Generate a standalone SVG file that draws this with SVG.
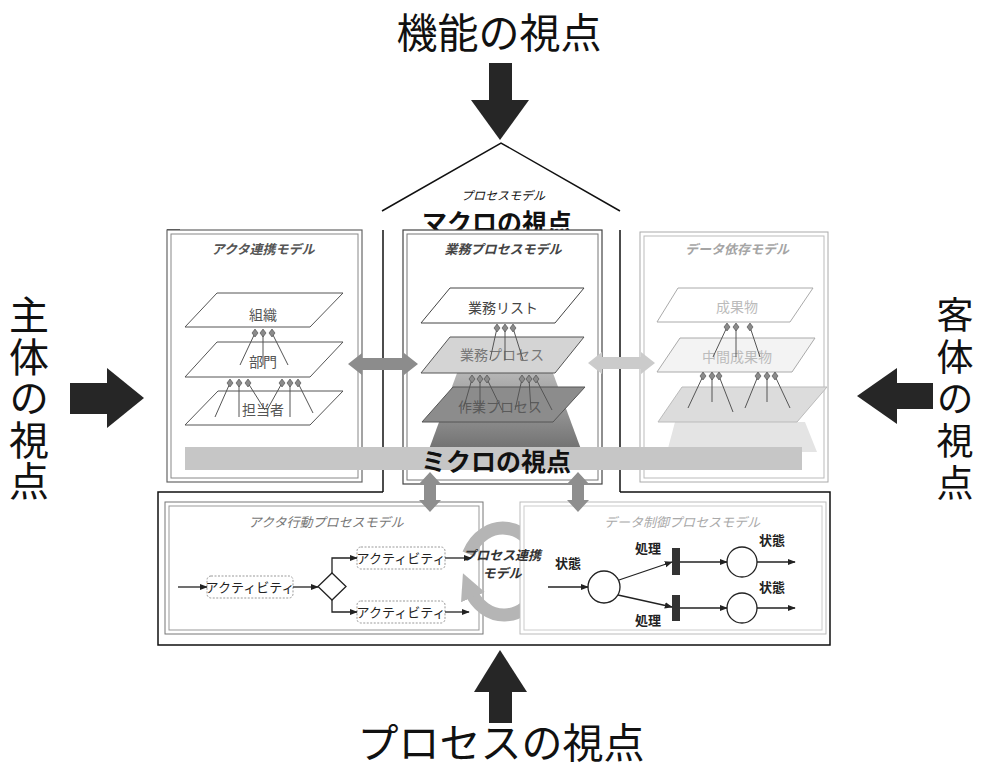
<svg xmlns="http://www.w3.org/2000/svg" width="983" height="770" viewBox="0 0 983 770">
<style>
text{font-family:"Noto Sans CJK JP","Noto Sans",sans-serif}
.big{font-size:41px;fill:#111;text-anchor:middle}
.vert{font-size:40px;fill:#111;writing-mode:vertical-rl;letter-spacing:1.5px}
.sub{font-size:25px;font-weight:bold;fill:#111;text-anchor:middle}
.ttl{font-size:13px;font-style:italic;font-weight:bold;text-anchor:middle}
.pl{font-size:14px;text-anchor:middle}
.act{font-size:13px;fill:#222;text-anchor:middle}
.lab{font-size:13px;font-weight:bold;fill:#222;text-anchor:middle}
.blk{stroke:#111;stroke-width:1.5;fill:none}
.fr{fill:#fff}
.frin{fill:none}
.pin{fill:#8a8a8a;stroke:#444;stroke-width:.6}
.pinl{stroke:#555;stroke-width:1;fill:none}
.ln{stroke:#222;stroke-width:1.3;fill:none}
.abox{fill:#fff;stroke:#999;stroke-width:1;stroke-dasharray:2 1.5}
.bigarr{fill:#262626}
</style>
<defs>
<marker id="ah" viewBox="0 0 10 10" refX="9" refY="5" markerWidth="8" markerHeight="8" markerUnits="userSpaceOnUse" orient="auto"><path d="M0,1 L10,5 L0,9 z" fill="#222"/></marker>
<marker id="rh" viewBox="0 0 10 10" refX="3" refY="5" markerWidth="26" markerHeight="26" markerUnits="userSpaceOnUse" orient="auto"><path d="M0,0 L10,5 L0,10 z" fill="#b5b5b5"/></marker>
<path id="pin" d="M0,-4 L3,0 L0,4 L-3,0 Z"/>
<linearGradient id="pyr" x1="0" y1="0" x2="0" y2="1"><stop offset="0" stop-color="#bdbdbd"/><stop offset="0.45" stop-color="#9a9a9a"/><stop offset="1" stop-color="#6f6f6f"/></linearGradient>
</defs>

<!-- perspective titles and big arrows -->
<g id="view-function">
<text class="big" x="499" y="48">機能の視点</text>
<rect class="bigarr" x="489" y="63" width="23" height="38"/>
<polygon class="bigarr" points="471,100 529,100 500,140"/>
</g>
<g id="view-subject">
<text class="vert" x="29" y="295">主体の視点</text>
<rect class="bigarr" x="70" y="383" width="38" height="31"/>
<polygon class="bigarr" points="107,368 107,428 144,398"/>
</g>
<g id="view-object">
<text class="vert" x="955" y="296" style="font-size:37px;letter-spacing:5px">客体の視点</text>
<rect class="bigarr" x="896" y="383" width="37" height="26"/>
<polygon class="bigarr" points="897,368 897,424 857,396"/>
</g>
<g id="view-process">
<polygon class="bigarr" points="474,692 527,692 500,650"/>
<rect class="bigarr" x="489" y="691" width="23" height="32"/>
<text class="big" x="501" y="758">プロセスの視点</text>
</g>

<!-- outer black frame -->
<g id="frame">
<polyline class="blk" points="382,211 501,143 620,211"/>
<line class="blk" x1="383" y1="230" x2="383" y2="492"/>
<line class="blk" x1="620" y1="230" x2="620" y2="492"/>
<polyline class="blk" points="383,492 158,492 158,645 830,645 830,492 620,492"/>
<line class="blk" x1="167" y1="230" x2="180" y2="230"/>
<text x="503" y="200" style="font-size:12px;font-style:italic;fill:#111;text-anchor:middle">プロセスモデル</text>
<text class="sub" x="497" y="232">マクロの視点</text>
</g>

<!-- actor collaboration model -->
<g id="actor-model">
<rect class="fr" x="167" y="230" width="195" height="252" stroke="#666" stroke-width="1.2"/>
<rect class="frin" x="171" y="234" width="187" height="244" stroke="#888" stroke-width="1"/>
<text class="ttl" x="263" y="254" fill="#555">アクタ連携モデル</text>
<polygon points="218,391 343,391 310,425 185,425" fill="#fff" stroke="#555" stroke-width="1"/>
<text class="pl" x="263" y="415" fill="#555">担当者</text>
<polygon points="217,342 343,342 310,377 185,377" fill="#fff" stroke="#555" stroke-width="1"/>
<text class="pl" x="263" y="367" fill="#555">部門</text>
<polygon points="217,293 343,293 310,327 185,327" fill="#fff" stroke="#555" stroke-width="1"/>
<text class="pl" x="263" y="320" fill="#555">組織</text>
<path class="pinl" d="M255,333 L240,365 M263,333 L263,365 M272,333 L288,365 M230,383 L215,417 M239,383 L239,417 M248,383 L265,410 M282,383 L267,410 M290,383 L290,417 M298,383 L313,413"/>
<g class="pin"><use href="#pin" x="255" y="333"/><use href="#pin" x="263" y="333"/><use href="#pin" x="272" y="333"/><use href="#pin" x="230" y="383"/><use href="#pin" x="239" y="383"/><use href="#pin" x="248" y="383"/><use href="#pin" x="282" y="383"/><use href="#pin" x="290" y="383"/><use href="#pin" x="298" y="383"/></g>
</g>

<!-- business process model -->
<g id="business-model">
<rect class="fr" x="403" y="230" width="199" height="254" stroke="#444" stroke-width="1.2"/>
<rect class="frin" x="407" y="234" width="191" height="246" stroke="#777" stroke-width="1"/>
<text class="ttl" x="503" y="254" fill="#444">業務プロセスモデル</text>
<polygon points="460,365 550,365 582,452 428,452" fill="url(#pyr)"/>
<polygon points="453,387 585,387 553,422 422,422" fill="#8c8c8c" stroke="#555" stroke-width="1"/>
<text class="pl" x="500" y="412" fill="#5a5a5a">作業プロセス</text>
<polygon points="450,337 584,337 555,373 421,373" fill="#d4d4d4" stroke="#555" stroke-width="1"/>
<text class="pl" x="502" y="360" fill="#777">業務プロセス</text>
<polygon points="450,288 584,288 555,323 421,323" fill="#fff" stroke="#444" stroke-width="1"/>
<text class="pl" x="503" y="313" fill="#444">業務リスト</text>
<path class="pinl" d="M497,328 L490,360 M505,328 L505,360 M513,328 L523,360 M472,379 L463,410 M480,379 L480,410 M487,379 L502,410 M522,379 L515,410 M529,379 L531,410 M536,379 L552,410" stroke="#eee"/>
<g class="pin"><use href="#pin" x="497" y="328"/><use href="#pin" x="505" y="328"/><use href="#pin" x="513" y="328"/><use href="#pin" x="472" y="379"/><use href="#pin" x="480" y="379"/><use href="#pin" x="487" y="379"/><use href="#pin" x="522" y="379"/><use href="#pin" x="529" y="379"/><use href="#pin" x="536" y="379"/></g>
</g>

<!-- data dependency model -->
<g id="data-model">
<rect class="fr" x="640" y="232" width="188" height="250" stroke="#aaa" stroke-width="1"/>
<rect class="frin" x="644" y="236" width="180" height="242" stroke="#bbb" stroke-width="1"/>
<text class="ttl" x="737" y="254" fill="#a5a5a5">データ依存モデル</text>
<polygon points="675,422 805,422 817,452 667,452" fill="#e4e4e4"/>
<polygon points="682,387 827,387 797,422 658,422" fill="#dcdcdc" stroke="#bbb" stroke-width="1"/>
<polygon points="680,338 815,338 792,372 657,372" fill="#f3f3f3" stroke="#aaa" stroke-width="1"/>
<text class="pl" x="737" y="362" fill="#bbb">中間成果物</text>
<polygon points="678,288 813,288 790,322 657,322" fill="#fff" stroke="#aaa" stroke-width="1"/>
<text class="pl" x="737" y="312" fill="#bbb">成果物</text>
<path class="pinl" d="M727,327 L713,357 M736,327 L736,357 M750,327 L760,357 M703,376 L688,408 M712,376 L712,402 M719,376 L733,412 M758,376 L745,408 M767,376 L767,402 M775,376 L790,408"/>
<g class="pin"><use href="#pin" x="727" y="327"/><use href="#pin" x="736" y="327"/><use href="#pin" x="750" y="327"/><use href="#pin" x="703" y="376"/><use href="#pin" x="712" y="376"/><use href="#pin" x="719" y="376"/><use href="#pin" x="758" y="376"/><use href="#pin" x="767" y="376"/><use href="#pin" x="775" y="376"/></g>
</g>

<!-- micro view band -->
<g id="micro-view">
<rect x="185" y="447" width="617" height="23" fill="#c6c6c6"/>
<text class="sub" x="496" y="471">ミクロの視点</text>
</g>

<!-- actor behaviour process model -->
<g id="actor-behaviour-model">
<rect class="fr" x="165" y="502" width="318" height="132" stroke="#777" stroke-width="1"/>
<rect class="frin" x="169" y="506" width="310" height="124" stroke="#999" stroke-width="1"/>
<text class="ttl" x="326" y="527" fill="#777" style="font-weight:normal">アクタ行動プロセスモデル</text>
</g>
<g id="act1"><rect class="abox" x="207" y="576" width="86" height="22" rx="4"/><text class="act" x="250" y="592">アクティビティ</text></g>
<g id="decision"><polygon points="332,573 346,586.5 332,600 318,586.5" fill="#fff" stroke="#222" stroke-width="1.3"/></g>
<g id="act2"><rect class="abox" x="357" y="547" width="88" height="22" rx="4"/><text class="act" x="401" y="563">アクティビティ</text></g>
<g id="act3"><rect class="abox" x="357" y="601" width="88" height="22" rx="4"/><text class="act" x="401" y="617">アクティビティ</text></g>

<!-- process link ring -->
<g id="process-link">
<path d="M468.6,554 A38,45 0 0 1 540.4,565.2" stroke="#b5b5b5" stroke-width="13" fill="none" marker-end="url(#rh)"/>
<path d="M538.7,588.4 A38,45 0 0 1 470,590" stroke="#b5b5b5" stroke-width="13" fill="none" marker-end="url(#rh)"/>
</g>

<!-- data control process model -->
<g id="data-control-model">
<rect class="fr" x="520" y="502" width="306" height="132" stroke="#bbb" stroke-width="1"/>
<rect class="frin" x="524" y="506" width="298" height="124" stroke="#ccc" stroke-width="1"/>
<text class="ttl" x="682" y="527" fill="#aaa" style="font-weight:normal">データ制御プロセスモデル</text>
</g>
<g id="process-link-label">
<text x="502" y="560" style="font-size:13px;font-style:italic;font-weight:bold;fill:#333;text-anchor:middle">プロセス連携</text>
<text x="502" y="578" style="font-size:13px;font-style:italic;font-weight:bold;fill:#333;text-anchor:middle">モデル</text>
</g>
<g id="state0"><circle cx="604" cy="587" r="16" fill="#fff" stroke="#222" stroke-width="1.3"/><text class="lab" x="568" y="568">状態</text></g>
<g id="trans1"><rect x="672" y="548" width="8" height="27" fill="#333"/><text class="lab" x="648" y="553">処理</text></g>
<g id="trans2"><rect x="672" y="595" width="8" height="26" fill="#333"/><text class="lab" x="648" y="625">処理</text></g>
<g id="state1"><circle cx="742" cy="562" r="15" fill="#fff" stroke="#222" stroke-width="1.3"/><text class="lab" x="772" y="545">状態</text></g>
<g id="state2"><circle cx="742" cy="608" r="15" fill="#fff" stroke="#222" stroke-width="1.3"/><text class="lab" x="772" y="592">状態</text></g>

<!-- connectors -->
<g id="connectors">
<polygon points="348,364 362,353 362,358 404,358 404,353 418,364 404,375 404,370 362,370 362,375" fill="#8c8c8c"/>
<polygon points="588,363 602,352 602,357 641,357 641,352 655,363 641,374 641,369 602,369 602,374" fill="#cbcbcb"/>
<polygon points="430,472 441,484 436,484 436,500 441,500 430,512 419,500 424,500 424,484 419,484" fill="#8e8e8e"/>
<polygon points="578,472 589,484 584,484 584,500 589,500 578,512 567,500 572,500 572,484 567,484" fill="#8e8e8e"/>
<line class="ln" x1="178" y1="587" x2="207" y2="587" marker-end="url(#ah)"/>
<line class="ln" x1="293" y1="587" x2="318" y2="587" marker-end="url(#ah)"/>
<polyline class="ln" points="332,573 332,558 357,558" marker-end="url(#ah)"/>
<polyline class="ln" points="332,600 332,612 357,612" marker-end="url(#ah)"/>
<line class="ln" x1="445" y1="558" x2="471" y2="558" marker-end="url(#ah)"/>
<line class="ln" x1="445" y1="612" x2="469" y2="612" marker-end="url(#ah)"/>
<line class="ln" x1="548" y1="587" x2="588" y2="587" marker-end="url(#ah)"/>
<line class="ln" x1="619" y1="580" x2="672" y2="562" marker-end="url(#ah)"/>
<line class="ln" x1="618" y1="595" x2="672" y2="607" marker-end="url(#ah)"/>
<line class="ln" x1="680" y1="562" x2="727" y2="562" marker-end="url(#ah)"/>
<line class="ln" x1="680" y1="608" x2="727" y2="608" marker-end="url(#ah)"/>
<line class="ln" x1="757" y1="562" x2="795" y2="562" marker-end="url(#ah)"/>
<line class="ln" x1="757" y1="608" x2="795" y2="608" marker-end="url(#ah)"/>
</g>
</svg>
